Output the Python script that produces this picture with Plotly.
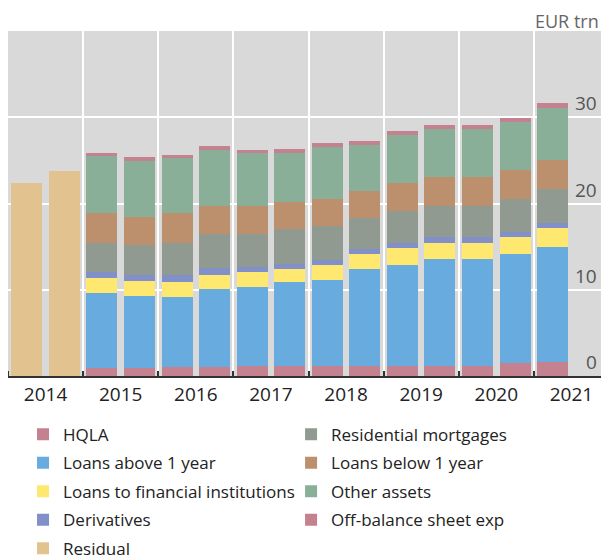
import plotly.graph_objects as go

periods = ["2014 H1", "2014 H2", "2015 H1", "2015 H2", "2016 H1", "2016 H2",
           "2017 H1", "2017 H2", "2018 H1", "2018 H2", "2019 H1", "2019 H2",
           "2020 H1", "2020 H2", "2021 H1"]

hqla = [None, None, 0.89, 0.89, 1.01, 1.01, 1.13, 1.13, 1.13, 1.13, 1.13, 1.13, 1.13, 1.47, 1.59]
loans_above_1y = [None, None, 8.70, 8.36, 8.12, 9.05, 9.16, 9.74, 9.97, 11.25, 11.71, 12.41, 12.41, 12.65, 13.34]
loans_fin_inst = [None, None, 1.74, 1.74, 1.74, 1.62, 1.74, 1.51, 1.74, 1.74, 1.97, 1.85, 1.85, 1.97, 2.21]
derivatives = [None, None, 0.70, 0.73, 0.85, 0.81, 0.58, 0.58, 0.58, 0.58, 0.62, 0.70, 0.70, 0.58, 0.58]
res_mortgages = [None, None, 3.40, 3.44, 3.71, 3.95, 3.83, 4.06, 3.95, 3.60, 3.71, 3.60, 3.60, 3.83, 3.94]
loans_below_1y = [None, None, 3.44, 3.25, 3.44, 3.22, 3.25, 3.13, 3.13, 3.13, 3.21, 3.36, 3.36, 3.36, 3.36]
other_assets = [None, None, 6.62, 6.50, 6.39, 6.49, 6.15, 5.69, 6.03, 5.33, 5.57, 5.57, 5.57, 5.57, 6.03]
off_balance = [None, None, 0.35, 0.46, 0.34, 0.46, 0.34, 0.46, 0.47, 0.47, 0.47, 0.46, 0.46, 0.46, 0.58]
residual = [22.35, 23.75, None, None, None, None, None, None, None, None, None, None, None, None, None]

years = ["2014", "2015", "2016", "2017", "2018", "2019", "2020", "2021"]
y_ticks = [0, 10, 20, 30]

# (name, values, colour, legend column, rank in column)
series = [
    ("HQLA", hqla, "#c4818f", "legend", 1),
    ("Loans above 1 year", loans_above_1y, "#68acdf", "legend", 2),
    ("Loans to financial institutions", loans_fin_inst, "#fee86f", "legend", 3),
    ("Derivatives", derivatives, "#8190c8", "legend", 4),
    ("Residential mortgages", res_mortgages, "#919a91", "legend2", 1),
    ("Loans below 1 year", loans_below_1y, "#bd906d", "legend2", 2),
    ("Other assets", other_assets, "#8aaf98", "legend2", 3),
    ("Off-balance sheet exp", off_balance, "#c4818f", "legend2", 4),
    ("Residual", residual, "#e2c28f", "legend", 5),
]

def to_x(p):
    y, h = p.split()
    return int(y) + (0.25 if h == "H1" else 0.75)

xs = [to_x(p) for p in periods]

fig = go.Figure()
for name, vals, color, leg, rank in series:
    fig.add_trace(go.Bar(
        x=xs, y=vals, name=name, marker=dict(color=color, line=dict(width=0)),
        width=0.413, legend=leg, legendrank=rank, legendgroup=name,
        hoverinfo="x+y+name",
    ))

yr = [int(y) for y in years]
legend_common = dict(
    orientation="v", yanchor="top", y=-0.118, xanchor="left",
    font=dict(family="Open Sans", size=17, color="#222222"),
    traceorder="grouped", tracegroupgap=3.4,
    itemclick=False, itemdoubleclick=False, bgcolor="rgba(0,0,0,0)",
)
fig.update_layout(
    width=601, height=551,
    barmode="stack",
    font=dict(family="Open Sans", size=18, color="#222222"),
    paper_bgcolor="white",
    plot_bgcolor="#d9d9d9",
    margin=dict(l=0, r=0, t=23, b=183, autoexpand=False),
    showlegend=True,
    legend=dict(x=0.025, **legend_common),
    legend2=dict(x=0.471, **legend_common),
    xaxis=dict(
        range=[yr[0], yr[-1] + 1],
        tickmode="array",
        tickvals=[y + 0.5 for y in yr],
        ticktext=years,
        ticks="", showgrid=False, zeroline=False,
        showline=True, linecolor="#333333", linewidth=2,
        tickfont=dict(size=19, color="#222222"),
        minor=dict(
            tickmode="array", tickvals=yr + [yr[-1] + 1],
            ticks="inside", ticklen=5, tickwidth=2, tickcolor="#333333",
            showgrid=True, gridcolor="white", gridwidth=2,
        ),
        fixedrange=True,
    ),
    yaxis=dict(
        range=[0, 40], side="right",
        tickmode="array", tickvals=y_ticks,
        showticklabels=False,
        ticks="", showgrid=True, gridcolor="white", gridwidth=2,
        zeroline=False, showline=False,
        fixedrange=True,
    ),
)

annotations = [dict(
    text="EUR trn", xref="paper", yref="paper", x=1, y=1,
    xanchor="right", yanchor="top", yshift=23, xshift=-9, showarrow=False,
    borderpad=0, font=dict(size=18, color="#666666"),
)]
for v in y_ticks:
    annotations.append(dict(
        text=str(v), xref="paper", yref="y", x=1, y=v,
        xanchor="right", yanchor="middle", yshift=14, xshift=-10, showarrow=False,
        font=dict(size=19, color="#555555"),
    ))
fig.update_layout(annotations=annotations)

fig.write_html("out.html")
